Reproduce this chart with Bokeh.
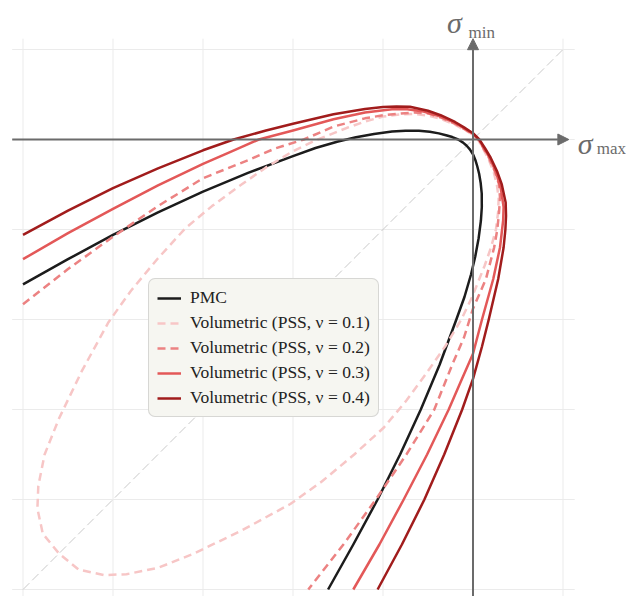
from bokeh.plotting import figure
from bokeh.models import Range1d, Legend, LegendItem, Arrow, NormalHead, Label
from bokeh.embed import file_html
from bokeh.resources import INLINE

# ---------------- data, (sigma_max, sigma_min) pairs ----------------
grid_ticks = [-5, -4, -3, -2, -1, 0, 1]
diag = [-5, 1]

pmc_pts = [(-5.0, -1.61), (-4.5, -1.33), (-4.0, -1.06), (-3.5, -0.81), (-3.0, -0.58), (-2.5, -0.37),
           (-2.0, -0.185), (-1.75, -0.095), (-1.5, -0.022), (-1.3, 0.025), (-1.1, 0.062), (-0.9, 0.088),
           (-0.75, 0.098), (-0.6, 0.097), (-0.48, 0.085), (-0.38, 0.068), (-0.3, 0.048), (-0.23, 0.027),
           (-0.165, 0.0), (-0.11, -0.035), (-0.07, -0.07), (-0.035, -0.11), (0.0, -0.165), (0.027, -0.23),
           (0.048, -0.3), (0.068, -0.38), (0.085, -0.48), (0.097, -0.6), (0.098, -0.75), (0.088, -0.9),
           (0.062, -1.1), (0.025, -1.3), (-0.022, -1.5), (-0.095, -1.75), (-0.185, -2.0), (-0.37, -2.5),
           (-0.58, -3.0), (-0.81, -3.5), (-1.06, -4.0), (-1.33, -4.5), (-1.61, -5.0)]

v1_pts = [(0.0, 0.055), (-0.1, 0.11), (-0.2, 0.165), (-0.36, 0.23), (-0.5, 0.265), (-0.65, 0.285),
          (-0.8, 0.28), (-1.0, 0.255), (-1.2, 0.2), (-1.4, 0.13), (-1.6, 0.05), (-1.75, -0.01),
          (-2.0, -0.13), (-2.3, -0.31), (-2.6, -0.52), (-2.9, -0.74), (-3.2, -0.99), (-3.5, -1.32),
          (-3.8, -1.68), (-4.05, -2.03), (-4.35, -2.58), (-4.6, -3.1), (-4.76, -3.5), (-4.83, -3.85),
          (-4.84, -4.1), (-4.78, -4.38), (-4.6, -4.6), (-4.38, -4.78), (-4.1, -4.84), (-3.85, -4.83),
          (-3.5, -4.76), (-3.1, -4.6), (-2.58, -4.35), (-2.03, -4.05), (-1.68, -3.8), (-1.32, -3.5),
          (-0.99, -3.2), (-0.74, -2.9), (-0.52, -2.6), (-0.31, -2.3), (-0.13, -2.0), (-0.01, -1.75),
          (0.05, -1.6), (0.13, -1.4), (0.2, -1.2), (0.255, -1.0), (0.28, -0.8), (0.285, -0.65),
          (0.265, -0.5), (0.23, -0.36), (0.165, -0.2), (0.11, -0.1), (0.055, 0.0), (0.0, 0.055)]

v2_pts = [(-5.0, -1.83), (-4.5, -1.44), (-4.0, -1.08), (-3.5, -0.74), (-3.0, -0.43), (-2.5, -0.23),
          (-2.2, -0.10), (-1.88, 0.0), (-1.55, 0.144), (-1.2, 0.235), (-1.0, 0.27), (-0.8, 0.29),
          (-0.65, 0.30), (-0.5, 0.29), (-0.36, 0.245), (-0.2, 0.175), (-0.1, 0.118), (0.0, 0.06),
          (0.06, 0.0), (0.118, -0.1), (0.175, -0.2), (0.245, -0.36), (0.29, -0.5),
          (0.30, -0.65), (0.29, -0.8), (0.27, -1.0), (0.235, -1.2), (0.144, -1.55), (0.0, -1.88),
          (-0.10, -2.2), (-0.23, -2.5), (-0.43, -3.0), (-0.74, -3.5), (-1.08, -4.0), (-1.44, -4.5),
          (-1.83, -5.0)]

v3_pts = [(-5.0, -1.33), (-4.5, -1.04), (-4.0, -0.77), (-3.5, -0.51), (-3.0, -0.27), (-2.7, -0.14),
          (-2.38, 0.0), (-2.0, 0.10), (-1.55, 0.225), (-1.2, 0.30), (-0.9, 0.335), (-0.75, 0.34),
          (-0.55, 0.31), (-0.36, 0.255), (-0.2, 0.185), (-0.1, 0.125), (0.0, 0.065),
          (0.065, 0.0), (0.125, -0.1), (0.185, -0.2), (0.255, -0.36), (0.31, -0.55), (0.34, -0.75),
          (0.335, -0.9), (0.30, -1.2), (0.225, -1.55), (0.10, -2.0), (0.0, -2.38), (-0.14, -2.7),
          (-0.27, -3.0), (-0.51, -3.5), (-0.77, -4.0), (-1.04, -4.5), (-1.33, -5.0)]

v4_pts = [(-5.0, -1.06), (-4.5, -0.79), (-4.0, -0.54), (-3.5, -0.32), (-3.0, -0.12), (-2.66, 0.0),
          (-2.3, 0.10), (-2.0, 0.175), (-1.55, 0.28), (-1.2, 0.34), (-1.0, 0.36), (-0.85, 0.367),
          (-0.7, 0.363), (-0.5, 0.32), (-0.36, 0.27), (-0.2, 0.195), (-0.1, 0.135), (0.0, 0.07),
          (0.07, 0.0), (0.135, -0.1), (0.195, -0.2), (0.27, -0.36), (0.32, -0.5),
          (0.363, -0.7), (0.367, -0.85), (0.36, -1.0), (0.34, -1.2), (0.28, -1.55), (0.175, -2.0),
          (0.10, -2.3), (0.0, -2.66), (-0.12, -3.0), (-0.32, -3.5), (-0.54, -4.0), (-0.79, -4.5),
          (-1.06, -5.0)]

labels = ["PMC", "Volumetric (PSS, ν = 0.1)", "Volumetric (PSS, ν = 0.2)",
          "Volumetric (PSS, ν = 0.3)", "Volumetric (PSS, ν = 0.4)"]

# ---------------- figure ----------------
W, H = 626, 596
ox, oy, unit = 472.5, 139.0, 90.0
p = figure(width=W, height=H, output_backend="svg", toolbar_location=None,
           x_range=Range1d(-ox / unit, (W - ox) / unit),
           y_range=Range1d((oy - H) / unit, oy / unit),
           x_axis_location=None, y_axis_location=None, min_border=0)
p.grid.visible = False
p.outline_line_color = None
p.background_fill_color = "white"
p.border_fill_color = "white"

GRID = "#ebebeb"
n = len(grid_ticks)
p.segment(x0=grid_ticks, y0=[-5.3] * n, x1=grid_ticks, y1=[1.12] * n, line_color=GRID, line_width=1)
p.segment(x0=[-5.12] * n, y0=grid_ticks, x1=[1.13] * n, y1=grid_ticks, line_color=GRID, line_width=1)

p.line(diag, diag, line_color="#c9c9c9", line_width=1, line_dash="9 4")

AX = "#6b6b6b"
p.add_layout(Arrow(x_start=-5.12, y_start=0, x_end=1.065, y_end=0, line_color=AX, line_width=2,
                   end=NormalHead(size=11, fill_color=AX, line_color=AX, line_width=1)))
p.add_layout(Arrow(x_start=0, y_start=-5.3, x_end=0, y_end=1.12, line_color=AX, line_width=2,
                   end=NormalHead(size=11, fill_color=AX, line_color=AX, line_width=1)))

def xs(pts):
    return [a for a, b in pts]

def ys(pts):
    return [b for a, b in pts]

r0 = p.line(xs(pmc_pts), ys(pmc_pts), line_color="#1c1c1c", line_width=2.5, line_join="round")
r1 = p.line(xs(v1_pts), ys(v1_pts), line_color="#f7c6c6", line_width=2.5, line_dash="8 5", line_join="round")
r2 = p.line(xs(v2_pts), ys(v2_pts), line_color="#ec8282", line_width=2.5, line_dash="8 5", line_join="round")
r3 = p.line(xs(v3_pts), ys(v3_pts), line_color="#e35858", line_width=2.5, line_join="round")
r4 = p.line(xs(v4_pts), ys(v4_pts), line_color="#a11c1c", line_width=2.5, line_join="round")

SERIF = "Liberation Serif"
def lab(x, y, text, size, style="normal"):
    p.add_layout(Label(x=x, y=y, text=text, text_font=SERIF, text_font_size=size, text_color=AX,
                       text_font_style=style, text_baseline="alphabetic", text_align="left"))

lab(-0.29, 1.295, "σ", "30px", "italic")
lab(-0.05, 1.19, "min", "17px")
lab(1.165, -0.04, "σ", "30px", "italic")
lab(1.375, -0.10, "max", "17px")

legend = Legend(items=[LegendItem(label=labels[i], renderers=[r]) for i, r in enumerate([r0, r1, r2, r3, r4])],
                location=(148, 179), label_text_font=SERIF, label_text_font_size="17.5px",
                label_text_color="#222222", background_fill_color="#f6f6f1", background_fill_alpha=1.0,
                border_line_color="#b8b8b8", border_line_width=1.2, padding=8, spacing=4, margin=0,
                glyph_width=24, glyph_height=18, label_height=18, label_standoff=9)
if "border_radius" in Legend.properties():
    legend.border_radius = 7
p.add_layout(legend)

open("out.html", "w").write(file_html(p, INLINE))
